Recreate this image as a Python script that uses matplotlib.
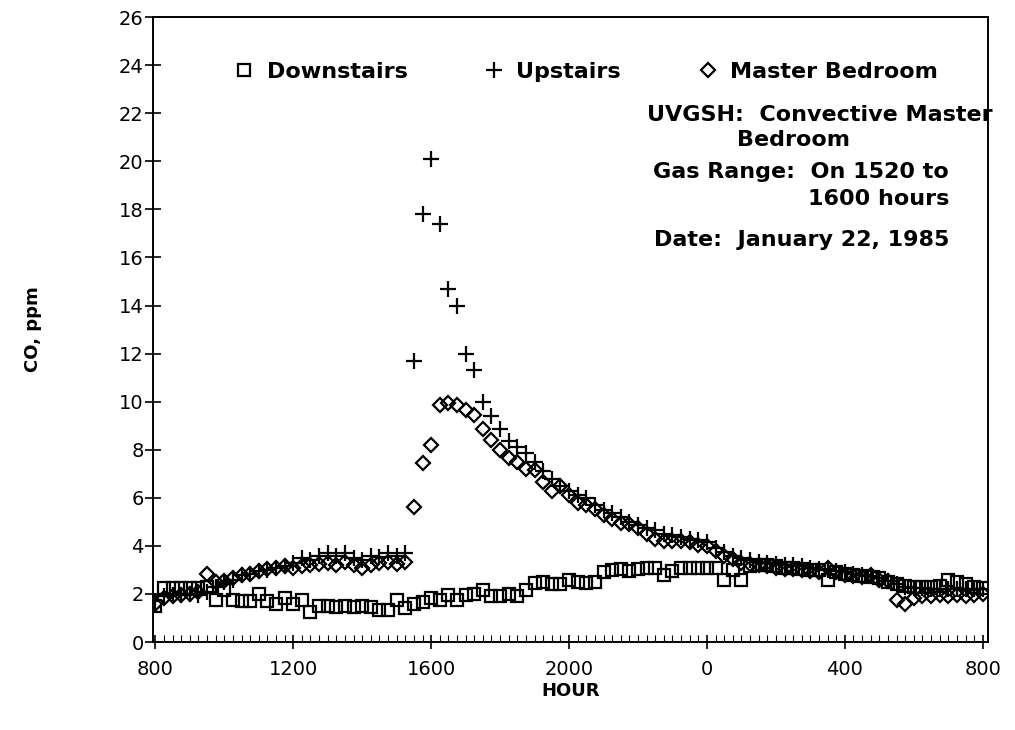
import matplotlib

matplotlib.use("Agg")
import matplotlib.pyplot as plt
import numpy as np
from matplotlib.ticker import MultipleLocator

# hours after 0800, 15-minute readings
hours = np.arange(97) * 0.25

downstairs = [
    1.5, 2.25, 2.25, 2.25, 2.25, 2.25, 2.3, 1.75, 2.15, 1.75, 1.7, 1.7,
    2.0, 1.7, 1.6, 1.85, 1.6, 1.75, 1.25, 1.5, 1.5, 1.45, 1.5, 1.45,
    1.5, 1.45, 1.35, 1.35, 1.75, 1.4, 1.6, 1.65, 1.85, 1.75, 1.95, 1.75,
    1.95, 2.0, 2.15, 1.9, 1.9, 2.0, 1.9, 2.15, 2.45, 2.5, 2.4, 2.4,
    2.6, 2.5, 2.45, 2.5, 2.9, 3.0, 3.05, 2.95, 3.05, 3.1, 3.1, 2.8,
    2.95, 3.1, 3.1, 3.1, 3.1, 3.1, 2.6, 3.0, 2.6, 3.15, 3.2, 3.2,
    3.15, 3.1, 3.1, 3.05, 3.0, 3.0, 2.6, 2.9, 2.85, 2.8, 2.75, 2.7,
    2.65, 2.5, 2.4, 2.35, 2.3, 2.3, 2.3, 2.35, 2.6, 2.5, 2.4, 2.3,
    2.25,
]

upstairs = [
    1.7, 1.9, 1.95, 1.95, 2.0, 1.95, 2.1, 2.3, 2.5, 2.6, 2.8, 2.85,
    2.95, 3.0, 3.1, 3.15, 3.3, 3.5, 3.4, 3.6, 3.7, 3.6, 3.7, 3.5,
    3.4, 3.6, 3.55, 3.7, 3.6, 3.7, 11.7, 17.8, 20.1, 17.4, 14.7, 14.0,
    12.0, 11.3, 10.0, 9.4, 8.85, 8.35, 8.1, 7.85, 7.5, 7.1, 6.8, 6.5,
    6.3, 6.1, 6.0, 5.7, 5.5, 5.35, 5.2, 5.0, 4.85, 4.75, 4.65, 4.5,
    4.45, 4.35, 4.3, 4.25, 4.15, 3.9, 3.75, 3.6, 3.5, 3.4, 3.35, 3.3,
    3.25, 3.2, 3.2, 3.15, 3.1, 3.05, 3.0, 2.95, 2.9, 2.85, 2.8, 2.75,
    2.65, 2.55, 2.4, 2.3, 2.25, 2.25, 2.2, 2.2, 2.2, 2.2, 2.2, 2.2,
    2.2,
]

master_bedroom = [
    1.6, 1.85, 1.9, 1.95, 2.0, 2.1, 2.85, 2.5, 2.55, 2.65, 2.8, 2.85,
    2.95, 3.05, 3.1, 3.15, 3.1, 3.15, 3.2, 3.25, 3.3, 3.2, 3.35, 3.2,
    3.1, 3.2, 3.3, 3.35, 3.25, 3.35, 5.6, 7.45, 8.2, 9.85, 9.95, 9.85,
    9.65, 9.45, 8.85, 8.4, 8.0, 7.65, 7.5, 7.2, 7.15, 6.65, 6.3, 6.5,
    6.1, 5.8, 5.7, 5.55, 5.3, 5.1, 4.95, 4.9, 4.75, 4.5, 4.3, 4.2,
    4.2, 4.2, 4.15, 4.05, 4.0, 3.8, 3.6, 3.45, 3.3, 3.25, 3.2, 3.15,
    3.1, 3.05, 3.05, 3.0, 2.95, 2.9, 3.1, 2.9, 2.8, 2.75, 2.7, 2.8,
    2.6, 2.55, 1.75, 1.6, 1.85, 1.9, 1.9, 1.95, 1.9, 1.95, 1.9, 1.95,
    2.0,
]

tick_hours = [0, 4, 8, 12, 16, 20, 24]
tick_labels = ["800", "1200", "1600", "2000", "0", "400", "800"]

plt.rcParams["font.family"] = ["DejaVu Sans"]

fig = plt.figure(figsize=(10.15, 7.3), dpi=100)
ax = fig.add_axes([0.151, 0.1205, 0.822, 0.856])

ax.plot(hours, downstairs, ls="none", marker="s", ms=8, mfc="none",
        mec="black", mew=1.6, label="Downstairs")
ax.plot(hours, upstairs, ls="none", marker="+", ms=12, mec="black",
        mew=1.6, label="Upstairs")
ax.plot(hours, master_bedroom, ls="none", marker="D", ms=7, mfc="none",
        mec="black", mew=1.6, label="Master Bedroom")

ax.set_xlim(-0.06, 24.14)
ax.set_ylim(0, 26)
ax.set_xticks(tick_hours)
ax.set_xticklabels(tick_labels)
ax.xaxis.set_minor_locator(MultipleLocator(0.25))
ax.yaxis.set_major_locator(MultipleLocator(2))
ax.tick_params(axis="x", which="major", direction="inout", length=10,
               width=1.2, labelsize=14, pad=8)
ax.tick_params(axis="x", which="minor", direction="in", length=5, width=0.8)
ax.tick_params(axis="y", which="major", direction="inout", length=12,
               width=1.2, labelsize=14, pad=1)
for s in ax.spines.values():
    s.set_linewidth(1.4)

ax.set_xlabel("HOUR", fontsize=13, fontweight="bold", labelpad=2)
ax.set_ylabel("CO, ppm", fontsize=13, fontweight="bold", labelpad=55)

ax.legend(loc="center left", bbox_to_anchor=(0.096, 0.912), ncol=3,
          frameon=False, prop={"size": 16, "weight": "bold"},
          borderpad=0, borderaxespad=0,
          handletextpad=0.5, columnspacing=3.4, handlelength=1.0)

tr = ax.transAxes
kw = dict(fontsize=16, fontweight="bold", transform=tr)
ax.text(1.006, 0.843, "UVGSH:  Convective Master", ha="right", va="center", **kw)
ax.text(0.700, 0.803, "Bedroom", ha="left", va="center", **kw)
ax.text(0.954, 0.752, "Gas Range:  On 1520 to", ha="right", va="center", **kw)
ax.text(0.954, 0.709, "1600 hours", ha="right", va="center", **kw)
ax.text(0.954, 0.643, "Date:  January 22, 1985", ha="right", va="center", **kw)

fig.savefig("out.png", dpi=100)
